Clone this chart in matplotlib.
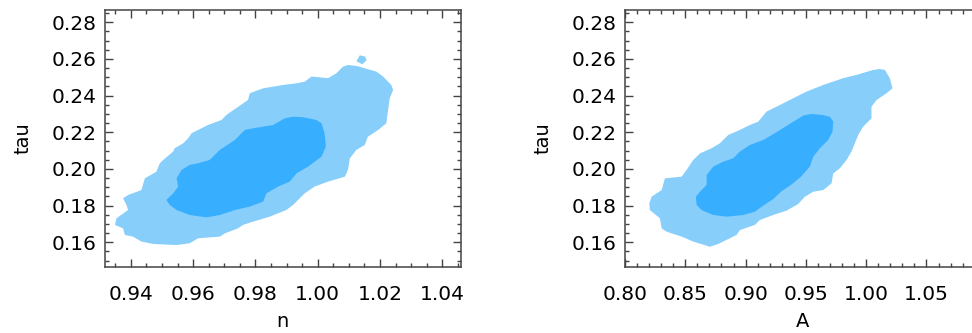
import numpy as np
import matplotlib
matplotlib.use("Agg")
import matplotlib.pyplot as plt
from matplotlib.ticker import MultipleLocator, FormatStrFormatter

# contour outlines (x, tau)
# left panel: n vs tau
n_outer = [(0.9349, 0.1695), (0.9354, 0.1731), (0.9391, 0.1776), (0.9386, 0.1804),
           (0.9375, 0.1840), (0.9391, 0.1858), (0.9434, 0.1885), (0.9445, 0.1949),
           (0.9482, 0.1985), (0.9493, 0.2031), (0.9504, 0.2049), (0.9536, 0.2095),
           (0.9541, 0.2113), (0.9568, 0.2140), (0.9584, 0.2167), (0.9595, 0.2195),
           (0.9648, 0.2240), (0.9691, 0.2267), (0.9707, 0.2295), (0.9776, 0.2376),
           (0.9782, 0.2413), (0.9825, 0.2440), (0.9889, 0.2458), (0.9932, 0.2467),
           (0.9958, 0.2476), (0.9980, 0.2504), (1.0033, 0.2495), (1.0060, 0.2522),
           (1.0081, 0.2558), (1.0097, 0.2567), (1.0124, 0.2562), (1.0151, 0.2549),
           (1.0188, 0.2531), (1.0210, 0.2504), (1.0236, 0.2458), (1.0242, 0.2431),
           (1.0231, 0.2385), (1.0220, 0.2249), (1.0194, 0.2213), (1.0161, 0.2176),
           (1.0151, 0.2131), (1.0124, 0.2104), (1.0103, 0.2058), (1.0097, 0.1995),
           (1.0087, 0.1958), (1.0033, 0.1931), (0.9990, 0.1904), (0.9958, 0.1867),
           (0.9937, 0.1831), (0.9921, 0.1804), (0.9899, 0.1776), (0.9846, 0.1740),
           (0.9793, 0.1713), (0.9760, 0.1695), (0.9744, 0.1676), (0.9702, 0.1649),
           (0.9686, 0.1631), (0.9616, 0.1622), (0.9589, 0.1595), (0.9547, 0.1585),
           (0.9472, 0.1591), (0.9434, 0.1604), (0.9407, 0.1631), (0.9381, 0.1640),
           (0.9375, 0.1676)]
n_island = [(1.0135, 0.2620), (1.0152, 0.2613), (1.0157, 0.2593), (1.0143, 0.2571),
            (1.0124, 0.2587)]
n_inner = [(0.9514, 0.1831), (0.9536, 0.1867), (0.9552, 0.1904), (0.9547, 0.1949),
           (0.9563, 0.1995), (0.9589, 0.2022), (0.9616, 0.2031), (0.9653, 0.2049),
           (0.9686, 0.2104), (0.9718, 0.2140), (0.9734, 0.2158), (0.9766, 0.2213),
           (0.9793, 0.2222), (0.9825, 0.2231), (0.9857, 0.2240), (0.9894, 0.2276),
           (0.9921, 0.2285), (0.9953, 0.2282), (0.9996, 0.2267), (1.0012, 0.2249),
           (1.0022, 0.2195), (1.0026, 0.2122), (1.0012, 0.2067), (0.9969, 0.2013),
           (0.9932, 0.1976), (0.9910, 0.1931), (0.9873, 0.1904), (0.9835, 0.1867),
           (0.9825, 0.1822), (0.9782, 0.1795), (0.9734, 0.1776), (0.9686, 0.1749),
           (0.9643, 0.1736), (0.9589, 0.1749), (0.9547, 0.1776), (0.9525, 0.1804)]

# right panel: A vs tau
a_outer = [(0.8202, 0.1813), (0.8221, 0.1849), (0.8304, 0.1885), (0.8331, 0.1949),
           (0.8470, 0.1958), (0.8511, 0.1995), (0.8566, 0.2049), (0.8622, 0.2085),
           (0.8718, 0.2113), (0.8787, 0.2140), (0.8856, 0.2185), (0.8953, 0.2213),
           (0.9036, 0.2240), (0.9105, 0.2258), (0.9174, 0.2313), (0.9285, 0.2349),
           (0.9423, 0.2395), (0.9506, 0.2422), (0.9644, 0.2458), (0.9809, 0.2495),
           (0.9920, 0.2513), (1.0058, 0.2540), (1.0113, 0.2545), (1.0155, 0.2540),
           (1.0196, 0.2495), (1.0218, 0.2440), (1.0169, 0.2413), (1.0086, 0.2376),
           (1.0044, 0.2340), (1.0044, 0.2276), (0.9975, 0.2231), (0.9934, 0.2185),
           (0.9878, 0.2095), (0.9837, 0.2049), (0.9782, 0.2004), (0.9727, 0.1976),
           (0.9713, 0.1922), (0.9644, 0.1885), (0.9561, 0.1876), (0.9492, 0.1849),
           (0.9436, 0.1809), (0.9340, 0.1773), (0.9229, 0.1749), (0.9119, 0.1722),
           (0.9077, 0.1695), (0.8953, 0.1667), (0.8925, 0.1640), (0.8773, 0.1591),
           (0.8704, 0.1576), (0.8566, 0.1604), (0.8470, 0.1631), (0.8345, 0.1658),
           (0.8304, 0.1676), (0.8290, 0.1731), (0.8207, 0.1776)]
a_inner = [(0.8588, 0.1849), (0.8622, 0.1876), (0.8677, 0.1913), (0.8677, 0.1967),
           (0.8732, 0.2013), (0.8815, 0.2040), (0.8898, 0.2058), (0.8953, 0.2095),
           (0.9036, 0.2131), (0.9146, 0.2158), (0.9243, 0.2195), (0.9340, 0.2235),
           (0.9478, 0.2291), (0.9547, 0.2300), (0.9630, 0.2295), (0.9699, 0.2285),
           (0.9727, 0.2258), (0.9721, 0.2204), (0.9685, 0.2158), (0.9616, 0.2113),
           (0.9561, 0.2067), (0.9533, 0.2013), (0.9459, 0.1958), (0.9376, 0.1913),
           (0.9293, 0.1876), (0.9229, 0.1836), (0.9146, 0.1800), (0.9077, 0.1767),
           (0.8981, 0.1749), (0.8843, 0.1740), (0.8732, 0.1749), (0.8635, 0.1776),
           (0.8594, 0.1804)]

light = "#87cefa"
dark = "#38aeff"
spine_col = "#444444"

fig = plt.figure(figsize=(9.72, 3.33), dpi=100)
ax1 = fig.add_axes([0.108, 0.198, 0.366, 0.772])
ax2 = fig.add_axes([0.643, 0.198, 0.366, 0.772])


def fill_poly(ax, pts, color):
    pts = np.array(pts)
    ax.fill(pts[:, 0], pts[:, 1], color=color, lw=0)


fill_poly(ax1, n_outer, light)
fill_poly(ax1, n_island, light)
fill_poly(ax1, n_inner, dark)
fill_poly(ax2, a_outer, light)
fill_poly(ax2, a_inner, dark)

ax1.set_xlim(0.9317, 1.0459)
ax2.set_xlim(0.80, 1.095)
ax1.xaxis.set_major_locator(MultipleLocator(0.02))
ax1.xaxis.set_minor_locator(MultipleLocator(0.005))
ax2.xaxis.set_major_locator(MultipleLocator(0.05))
ax2.xaxis.set_minor_locator(MultipleLocator(0.01))

for ax, xl in ((ax1, "n"), (ax2, "A")):
    ax.set_ylim(0.1465, 0.2867)
    ax.yaxis.set_major_locator(MultipleLocator(0.02))
    ax.yaxis.set_minor_locator(MultipleLocator(0.005))
    ax.xaxis.set_major_formatter(FormatStrFormatter("%.2f"))
    ax.yaxis.set_major_formatter(FormatStrFormatter("%.2f"))
    ax.tick_params(which="both", direction="in", top=True, right=True,
                   color=spine_col, width=1.0, labelsize=14.5)
    ax.tick_params(which="major", length=6)
    ax.tick_params(which="minor", length=3)
    ax.tick_params(axis="x", which="major", pad=13)
    ax.tick_params(axis="y", which="major", pad=6)
    for s in ax.spines.values():
        s.set_color(spine_col)
        s.set_linewidth(1.1)
    ax.set_xlabel(xl, fontsize=14, labelpad=6)
    ax.set_ylabel("tau", fontsize=14, labelpad=14)

fig.savefig("out.png", dpi=100)
